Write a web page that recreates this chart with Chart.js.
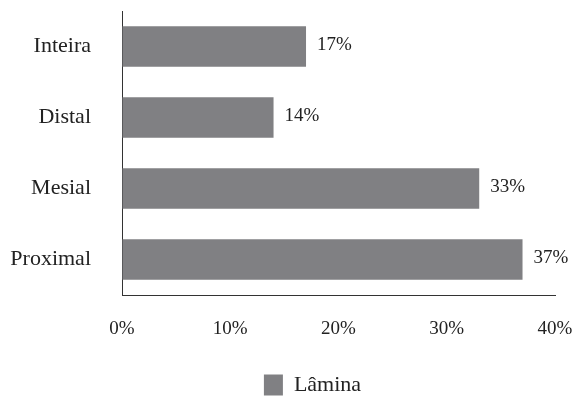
<!DOCTYPE html>
<html>
<head>
<meta charset="utf-8">
<script src="https://cdn.jsdelivr.net/npm/chart.js@4.4.1/dist/chart.umd.min.js"></script>
<style>
  html, body { margin: 0; padding: 0; background: #fff; }
  #wrap { width: 574px; height: 402px; }
</style>
</head>
<body>
<div id="wrap"><canvas id="laminagraph"></canvas></div>
<script>
const categories = ['Inteira', 'Distal', 'Mesial', 'Proximal'];
const lamina = [17, 14, 33, 37];
const xTicks = [0, 10, 20, 30, 40];

const FONT = "'Liberation Serif', serif";

// values written just past the end of each bar
const endLabels = {
  id: 'endLabels',
  afterDatasetsDraw(chart) {
    const ctx = chart.ctx;
    const meta = chart.getDatasetMeta(0);
    ctx.save();
    ctx.font = '19px ' + FONT;
    ctx.fillStyle = '#222';
    ctx.textAlign = 'left';
    ctx.textBaseline = 'middle';
    meta.data.forEach(function(bar, i){
      ctx.fillText(lamina[i] + '%', bar.x + 11, bar.y - 1);
    });
    ctx.restore();
  }
};

// legend sits a bit right of centre and slightly lower in the original
const nudgeLegend = {
  id: 'nudgeLegend',
  afterLayout(chart) {
    const lg = chart.legend;
    lg.left += 35; lg.right += 35;
    lg.top += 4; lg.bottom += 4;
  }
};

function chart(){
  const data = {
    labels: categories,
    datasets: [{
      label: 'Lâmina',
      data: lamina,
      backgroundColor: '#808083',
      borderWidth: 0,
      categoryPercentage: 1,
      barPercentage: 0.57
    }]
  };

  const config = {
    type: 'bar',
    data,
    options: {
      indexAxis: 'y',
      responsive: true,
      maintainAspectRatio: false,
      animation: false,
      layout: { padding: { top: 11, right: 19, left: 0, bottom: 0 } },
      scales: {
        x: {
          min: 0,
          max: 40,
          afterBuildTicks(axis){ axis.ticks = xTicks.map(v => ({ value: v })); },
          afterFit(axis){
            axis.height = 65;
            axis.paddingLeft = 0;
            axis.paddingRight = 0;
          },
          grid: { display: true, drawOnChartArea: false, drawTicks: false },
          border: { display: true, color: '#333', width: 1 },
          ticks: {
            padding: 23,
            color: '#222',
            font: { family: FONT, size: 19 },
            callback: v => v + '%'
          }
        },
        y: {
          afterFit(axis){
            axis.width = 122;
            axis.paddingTop = 0;
            axis.paddingBottom = 0;
          },
          grid: { display: true, drawOnChartArea: false, drawTicks: false },
          border: { display: true, color: '#333', width: 1 },
          ticks: {
            padding: 31,
            color: '#222',
            font: { family: FONT, size: 22 }
          }
        }
      },
      plugins: {
        legend: {
          position: 'bottom',
          labels: {
            boxWidth: 19,
            boxHeight: 21,
            color: '#222',
            padding: 10,
            font: { family: FONT, size: 22 }
          }
        },
        tooltip: { enabled: false }
      }
    },
    plugins: [endLabels, nudgeLegend]
  };

  new Chart(document.getElementById('laminagraph'), config);
}
window.addEventListener('load', chart);
</script>
</body>
</html>
